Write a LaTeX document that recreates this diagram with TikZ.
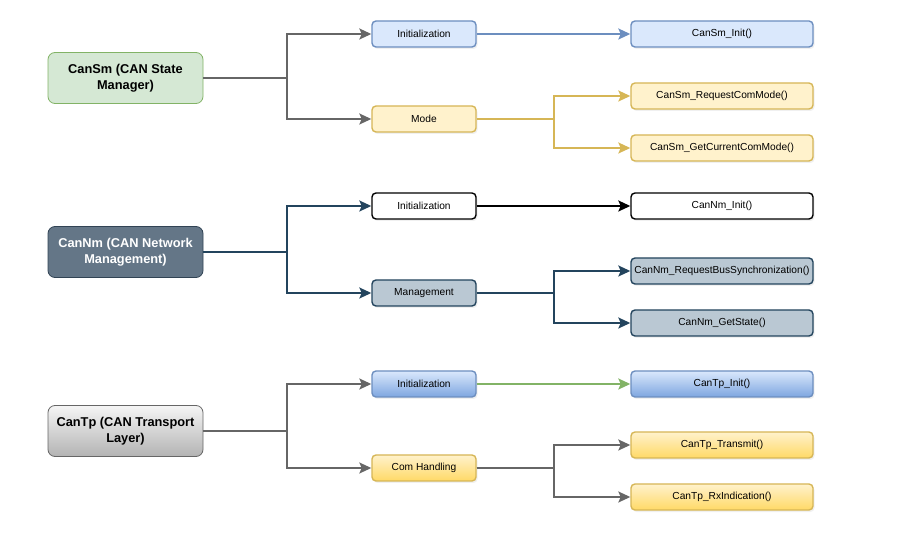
\documentclass[tikz,border=0pt]{standalone}
\usepackage{fontspec}
\setmainfont{Liberation Sans}
\usetikzlibrary{arrows.meta,shadows}
\definecolor{smgreen}{HTML}{D5E8D4}
\definecolor{smgreenline}{HTML}{82B366}
\definecolor{lblue}{HTML}{DAE8FC}
\definecolor{dblue}{HTML}{7EA6E0}
\definecolor{blueline}{HTML}{6C8EBF}
\definecolor{lyellow}{HTML}{FFF2CC}
\definecolor{dyellow}{HTML}{FFD966}
\definecolor{yellowline}{HTML}{D6B656}
\definecolor{nmfill}{HTML}{647687}
\definecolor{nmline}{HTML}{314354}
\definecolor{mgfill}{HTML}{BAC8D3}
\definecolor{mgline}{HTML}{23445D}
\definecolor{greyline}{HTML}{666666}
\definecolor{lgrey}{HTML}{F5F5F5}
\definecolor{dgrey}{HTML}{B3B3B3}
\begin{document}
\begin{tikzpicture}[x=1pt,y=-1pt,line width=2pt,
modblock/.style={draw,rectangle,rounded corners=7pt,minimum width=155pt,minimum height=51pt,align=center,font=\fontsize{12.8}{16.5}\selectfont\bfseries,line width=0.8pt},
funblock/.style={draw,rectangle,rounded corners=4pt,minimum width=104pt,minimum height=26pt,font=\fontsize{10.2}{12}\selectfont,line width=1.4pt,drop shadow={opacity=0.12,shadow xshift=1.5pt,shadow yshift=-2pt}},
apiblock/.style={funblock,minimum width=182pt},
toblue/.style={fill=lblue,draw=blueline},
toyellow/.style={fill=lyellow,draw=yellowline},
toslate/.style={fill=mgfill,draw=mgline},
blueshade/.style={top color=lblue,bottom color=dblue,draw=blueline},
yellowshade/.style={top color=lyellow,bottom color=dyellow,draw=yellowline},
arr/.style={-{Stealth[length=12pt,width=11pt,inset=2.5pt]}}]

\useasboundingbox (0,0) rectangle (900,534);

\draw (125.5,78) node[modblock,fill=smgreen,draw=smgreenline] (sm) {CanSm (CAN State\\Manager)};
\draw (424,34) node[funblock,toblue] (smini) {Initialization};
\draw (424,119) node[funblock,toyellow] (smmode) {Mode};
\draw (722,34) node[apiblock,toblue] (sminit) {CanSm\_Init()};
\draw (722,96) node[apiblock,toyellow] (smreq) {CanSm\_RequestComMode()};
\draw (722,148) node[apiblock,toyellow] (smget) {CanSm\_GetCurrentComMode()};

\draw (125.5,252) node[modblock,fill=nmfill,draw=nmline,text=white] (nm) {CanNm (CAN Network\\Management)};
\draw (424,206) node[funblock,fill=white,draw=black] (nmini) {Initialization};
\draw (424,293) node[funblock,toslate] (nmmgmt) {Management};
\draw (722,206) node[apiblock,fill=white,draw=black] (nminit) {CanNm\_Init()};
\draw (722,271) node[apiblock,toslate,inner sep=1pt] (nmsync) {CanNm\_RequestBusSynchronization()};
\draw (722,323) node[apiblock,toslate] (nmstate) {CanNm\_GetState()};

\draw (125.5,431) node[modblock,top color=lgrey,bottom color=dgrey,draw=greyline] (tp) {CanTp (CAN Transport\\Layer)};
\draw (424,384) node[funblock,blueshade] (tpini) {Initialization};
\draw (424,468) node[funblock,yellowshade] (tpcom) {Com Handling};
\draw (722,384) node[apiblock,blueshade] (tpinit) {CanTp\_Init()};
\draw (722,445) node[apiblock,yellowshade] (tptx) {CanTp\_Transmit()};
\draw (722,497) node[apiblock,yellowshade] (tprx) {CanTp\_RxIndication()};

\draw[arr,greyline] (sm.east) -- ++(84,0) |- (smini.west);
\draw[arr,greyline] (sm.east) -- ++(84,0) |- (smmode.west);
\draw[arr,blueline] (smini.east) -- (sminit.west);
\draw[arr,yellowline] (smmode.east) -- ++(77,0) |- (smreq.west);
\draw[arr,yellowline] (smmode.east) -- ++(77,0) |- (smget.west);

\draw[arr,mgline] (nm.east) -- ++(84,0) |- (nmini.west);
\draw[arr,mgline] (nm.east) -- ++(84,0) |- (nmmgmt.west);
\draw[arr,black] (nmini.east) -- (nminit.west);
\draw[arr,mgline] (nmmgmt.east) -- ++(77,0) |- (nmsync.west);
\draw[arr,mgline] (nmmgmt.east) -- ++(77,0) |- (nmstate.west);

\draw[arr,greyline] (tp.east) -- ++(84,0) |- (tpini.west);
\draw[arr,greyline] (tp.east) -- ++(84,0) |- (tpcom.west);
\draw[arr,smgreenline] (tpini.east) -- (tpinit.west);
\draw[arr,greyline] (tpcom.east) -- ++(77,0) |- (tptx.west);
\draw[arr,greyline] (tpcom.east) -- ++(77,0) |- (tprx.west);
\end{tikzpicture}
\end{document}
